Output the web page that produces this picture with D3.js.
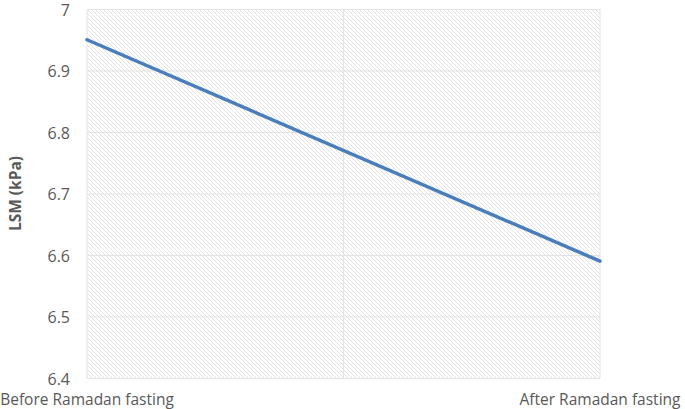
<!DOCTYPE html>
<html>
<head>
<meta charset="utf-8">
<script src="https://cdn.jsdelivr.net/npm/d3@7"></script>
<style>
  body { margin: 0; background: #fff; }
  text { font-family: "Open Sans", "Liberation Sans", sans-serif; }
</style>
</head>
<body>
<svg id="chart" width="685" height="409"></svg>
<script>
  // data
  var categories = ['Before Ramadan fasting', 'After Ramadan fasting'];
  var lsmValues = [6.95, 6.59];
  var yTicks = [6.4, 6.5, 6.6, 6.7, 6.8, 6.9, 7];

  var svg = d3.select('#chart');
  var margin = { top: 9, right: 85, bottom: 31, left: 87 };
  var width = +svg.attr('width') - margin.left - margin.right;
  var height = +svg.attr('height') - margin.top - margin.bottom;

  var x = d3.scalePoint()
    .domain(categories)
    .range([0, width]);

  var y = d3.scaleLinear()
    .domain([6.4, 7])
    .range([height, 0]);

  // hatch fill for the plot area
  var defs = svg.append('defs');
  var pat = defs.append('pattern')
    .attr('id', 'hatch')
    .attr('patternUnits', 'userSpaceOnUse')
    .attr('width', 4)
    .attr('height', 4);
  pat.append('rect').attr('width', 4).attr('height', 4).attr('fill', '#fff');
  pat.append('path')
    .attr('d', 'M-1,-1 L5,5 M-1,3 L1,5 M3,-1 L5,1')
    .attr('stroke', '#e2e2e2')
    .attr('stroke-width', 1);

  var g = svg.append('g')
    .attr('transform', 'translate(' + margin.left + ',' + margin.top + ')');

  g.append('rect')
    .attr('width', width)
    .attr('height', height)
    .attr('fill', 'url(#hatch)');

  // horizontal gridlines
  g.append('g')
    .call(d3.axisLeft(y).tickValues(yTicks).tickSize(-width).tickFormat(''))
    .call(function (s) {
      s.select('.domain').remove();
      s.selectAll('line').attr('stroke', '#e3e3e3').attr('stroke-width', 1);
    });

  // vertical gridlines: edges and midpoint between categories
  var xGrid = [0, width / 2, width];
  g.selectAll('.vgrid')
    .data(xGrid)
    .enter().append('line')
    .attr('class', 'vgrid')
    .attr('x1', function (d) { return d; })
    .attr('x2', function (d) { return d; })
    .attr('y1', 0)
    .attr('y2', height)
    .attr('stroke', '#e3e3e3');

  // y tick labels
  g.selectAll('.ylab')
    .data(yTicks)
    .enter().append('text')
    .attr('class', 'ylab')
    .attr('x', -17)
    .attr('y', function (d) { return y(d) + 1; })
    .attr('dy', '0.35em')
    .attr('text-anchor', 'end')
    .attr('fill', '#595959')
    .style('font-size', '16px')
    .text(function (d) { return d3.format('~g')(d); });

  // x category labels
  g.selectAll('.xlab')
    .data(categories)
    .enter().append('text')
    .attr('class', 'xlab')
    .attr('x', function (d) { return x(d); })
    .attr('y', height + 27)
    .attr('text-anchor', 'middle')
    .attr('fill', '#595959')
    .style('font-size', '15.5px')
    .text(function (d) { return d; });

  // y axis title
  svg.append('text')
    .attr('transform', 'translate(21,' + (margin.top + height / 2) + ') rotate(-90)')
    .attr('text-anchor', 'middle')
    .attr('fill', '#595959')
    .style('font-size', '15.5px')
    .style('font-weight', 'bold')
    .text('LSM (kPa)');

  // the line
  var line = d3.line()
    .x(function (d, i) { return x(categories[i]); })
    .y(function (d) { return y(d); });

  g.append('path')
    .datum(lsmValues)
    .attr('d', line)
    .attr('fill', 'none')
    .attr('stroke', '#4a7ebb')
    .attr('stroke-width', 3.5)
    .attr('stroke-linecap', 'round');
</script>
</body>
</html>
